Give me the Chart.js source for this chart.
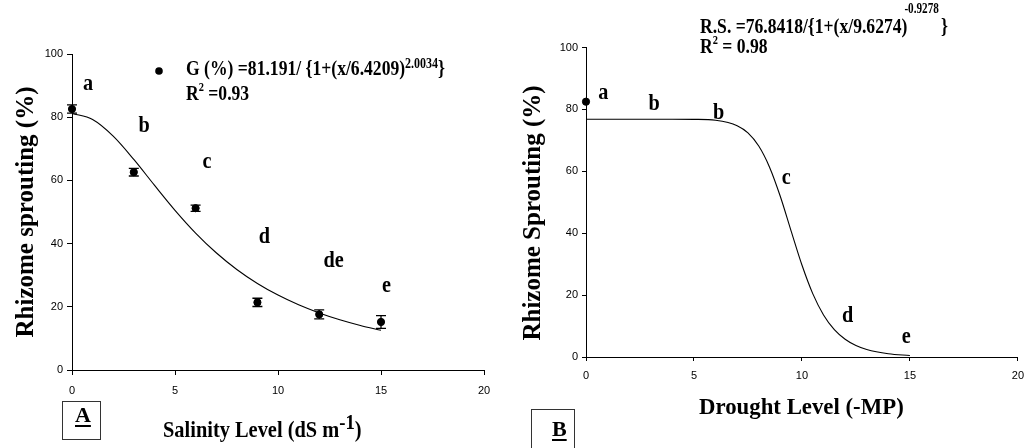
<!DOCTYPE html>
<html>
<head>
<meta charset="utf-8">
<script src="https://cdn.jsdelivr.net/npm/chart.js@4.4.1/dist/chart.umd.min.js"></script>
<style>
    html, body { margin: 0; padding: 0; background: #fff; }
    #wrap { position: relative; width: 1032px; height: 448px; overflow: hidden; }
    canvas { position: absolute; top: 0; }
    #salinityChart { left: 0; }
    #droughtChart { left: 516px; }
</style>
</head>
<body>
<div id="wrap">
    <canvas id="salinityChart" width="516" height="448"></canvas>
    <canvas id="droughtChart" width="516" height="448"></canvas>
</div>
<script>
"use strict";

/** DATA */

// Panel A - salinity
const salinityLevel = [0, 3, 6, 9, 12, 15];
const salinitySprouting = [82.6, 62.6, 51.2, 21.4, 17.6, 15.2];
const salinityError = [1.3, 1.2, 1.0, 1.3, 1.4, 2.0];
const salinityLetters = ['a', 'b', 'c', 'd', 'de', 'e'];
const salinityFitX = [0, 1, 2, 3, 4, 5, 6, 7, 8, 9, 10, 11, 12, 13, 14, 15];
const salinityFitY = [81.19, 79.27, 74.01, 66.64, 58.49, 50.54, 43.34, 37.10, 31.81, 27.38, 23.70, 20.63, 18.07, 15.92, 14.11, 12.57];

// Panel B - drought
const droughtLevel = [0];
const droughtSprouting = [82.5];
const droughtLetters = ['a', 'b', 'b', 'c', 'd', 'e'];
const droughtFitX = [0, 1, 2, 3, 4, 5, 6, 7, 7.5, 8, 8.5, 9, 9.5, 10, 10.5, 11, 11.5, 12, 12.5, 13, 14, 15];
const droughtFitY = [76.84, 76.84, 76.84, 76.84, 76.84, 76.79, 76.47, 74.74, 72.39, 68.15, 61.33, 51.85, 40.68, 29.71, 20.47, 13.59, 8.82, 5.72, 3.70, 2.42, 1.07, 0.49];

// Ticks
const xTickStep = 5;
const yTickStep = 20;

/** LAYOUT (letter anchors in data units: left edge / baseline) */
const salinityLetterPos = [[0.53, 88.6], [3.23, 75.4], [6.34, 64], [9.06, 40.3], [12.21, 32.5], [15.05, 24.8]];
const droughtLetterPos = [[0.57, 83.2], [2.89, 79.7], [5.88, 76.8], [9.06, 55.8], [11.86, 11.3], [14.62, 4.5]];

const SERIF = '"Liberation Serif", "Times New Roman", serif';
const SANS = '"Liberation Sans", Arial, sans-serif';

// Draw bold serif text, returns the x where it ends
const drawText = (ctx, text, x, y, size, opts = {}) => {
    const sx = opts.sx ?? 1;
    ctx.save();
    ctx.font = `bold ${ size }px ${ SERIF }`;
    ctx.fillStyle = '#000';
    ctx.textAlign = opts.align || 'left';
    ctx.textBaseline = 'alphabetic';
    ctx.translate(x, y);
    if (opts.rotate) ctx.rotate(opts.rotate);
    ctx.scale(sx, 1);
    ctx.fillText(text, 0, 0);
    const w = ctx.measureText(text).width * sx;
    ctx.restore();
    return x + w;
}

// Draw a run of pieces [text, size, dy, gap]
const drawRun = (ctx, pieces, x, y, sx) => {
    let cx = x;
    pieces.forEach(([text, size, dy, gap]) => {
        cx = drawText(ctx, text, cx + (gap || 0), y + (dy || 0), size, { sx });
    });
    return cx;
}

const drawPanelBox = (ctx, label, x, y, w, h, lx, ly) => {
    ctx.save();
    ctx.strokeStyle = '#333';
    ctx.lineWidth = 1;
    ctx.strokeRect(x + 0.5, y + 0.5, w, h);
    const end = drawText(ctx, label, lx, ly, 22);
    ctx.fillStyle = '#000';
    ctx.fillRect(lx, ly + 3, end - lx, 2);
    ctx.restore();
}

/** PLUGINS */

const errorBarPlugin = (xs, ys, errs) => ({
    id: 'errorBars',
    afterDatasetsDraw(chart) {
        const { ctx, scales: { x, y } } = chart;
        ctx.save();
        ctx.strokeStyle = '#000';
        ctx.lineWidth = 1.3;
        xs.forEach((v, i) => {
            const px = x.getPixelForValue(v);
            const top = y.getPixelForValue(ys[i] + errs[i]);
            const bot = y.getPixelForValue(ys[i] - errs[i]);
            ctx.beginPath();
            ctx.moveTo(px, top); ctx.lineTo(px, bot);
            ctx.moveTo(px - 5, top); ctx.lineTo(px + 5, top);
            ctx.moveTo(px - 5, bot); ctx.lineTo(px + 5, bot);
            ctx.stroke();
        });
        ctx.restore();
    }
});

const lettersPlugin = (letters, pos) => ({
    id: 'letters',
    afterDraw(chart) {
        const { ctx, scales: { x, y } } = chart;
        letters.forEach((t, i) => {
            drawText(ctx, t, x.getPixelForValue(pos[i][0]), y.getPixelForValue(pos[i][1]), 23, { sx: 0.88 });
        });
    }
});

const salinityTextPlugin = {
    id: 'salinityText',
    afterDraw(chart) {
        const ctx = chart.ctx;

        // Legend marker + equation
        ctx.save();
        ctx.fillStyle = '#000';
        ctx.beginPath();
        ctx.arc(159, 71, 3.8, 0, Math.PI * 2);
        ctx.fill();
        ctx.restore();
        drawRun(ctx, [['G (%) =81.191/ {1+(x/6.4209)', 22], ['2.0034', 15, -7], ['}', 22]], 186, 75, 0.8);
        drawRun(ctx, [['R', 22], ['2', 13, -9], [' =0.93', 22]], 186, 100, 0.8);

        // Axis titles
        drawText(ctx, 'Rhizome sprouting (%)', 33, 212, 25, { align: 'center', rotate: -Math.PI / 2 });
        drawRun(ctx, [['Salinity Level (dS m', 24], ['-1', 22, -8], [')', 24]], 163, 437, 0.85);

        // Panel label
        drawPanelBox(ctx, 'A', 62, 401, 38, 38, 75, 422);
    }
};

const droughtTextPlugin = {
    id: 'droughtText',
    afterDraw(chart) {
        const ctx = chart.ctx;

        // Equation
        drawRun(ctx, [['R.S. =76.8418/{1+(x/9.6274)', 22], ['-0.9278', 14, -20, -3], ['}', 22, 0, 2]], 184, 33, 0.8);
        drawRun(ctx, [['R', 22], ['2', 13, -9], [' = 0.98', 22]], 184, 53, 0.8);

        // Axis titles
        drawText(ctx, 'Rhizome Sprouting (%)', 24, 213, 25, { align: 'center', rotate: -Math.PI / 2 });
        drawText(ctx, 'Drought Level (-MP)', 183, 414, 24, { sx: 0.95 });

        // Panel label
        drawPanelBox(ctx, 'B', 15, 409, 43, 45, 36, 436);
    }
};

/** CHART FACTORY */

const makeScales = (yWidth, xHeight, xPad, tickLen) => ({
    x: {
        type: 'linear',
        min: 0,
        max: 20,
        ticks: { stepSize: xTickStep, color: '#000', font: { family: SANS, size: 11 }, padding: xPad, maxRotation: 0 },
        grid: { drawOnChartArea: false, drawTicks: true, tickLength: tickLen, color: '#000', lineWidth: 1 },
        border: { display: true, color: '#000', width: 1 },
        afterFit: scale => { scale.height = xHeight; }
    },
    y: {
        type: 'linear',
        min: 0,
        max: 100,
        ticks: { stepSize: yTickStep, color: '#000', font: { family: SANS, size: 11 }, padding: 4 },
        grid: { drawOnChartArea: false, drawTicks: true, tickLength: tickLen, color: '#000', lineWidth: 1 },
        border: { display: true, color: '#000', width: 1 },
        afterFit: scale => { scale.width = yWidth; }
    }
});

const makeChart = (canvasId, cfg) => new Chart(document.getElementById(canvasId).getContext('2d'), {
    type: 'scatter',
    data: {
        datasets: [{
            type: 'line',
            data: cfg.fitX.map((x, i) => ({ x, y: cfg.fitY[i] })),
            borderColor: '#000',
            borderWidth: 1.1,
            pointRadius: 0,
            fill: false,
            cubicInterpolationMode: 'monotone',
            clip: false
        }, {
            data: cfg.pointX.map((x, i) => ({ x, y: cfg.pointY[i] })),
            backgroundColor: '#000',
            borderColor: '#000',
            pointRadius: 3.6,
            clip: false
        }]
    },
    options: {
        responsive: false,
        animation: false,
        devicePixelRatio: 1,
        layout: { padding: cfg.padding },
        plugins: { legend: { display: false }, tooltip: { enabled: false } },
        scales: makeScales(cfg.yWidth, cfg.xHeight, cfg.xPad, cfg.tickLen)
    },
    plugins: cfg.plugins
});

// Panel A
makeChart('salinityChart', {
    fitX: salinityFitX, fitY: salinityFitY,
    pointX: salinityLevel, pointY: salinitySprouting,
    padding: { left: 0, top: 54, right: 32, bottom: 0 },
    yWidth: 72, xHeight: 78, xPad: 9, tickLen: 5,
    plugins: [
        errorBarPlugin(salinityLevel, salinitySprouting, salinityError),
        lettersPlugin(salinityLetters, salinityLetterPos),
        salinityTextPlugin
    ]
});

// Panel B
makeChart('droughtChart', {
    fitX: droughtFitX, fitY: droughtFitY,
    pointX: droughtLevel, pointY: droughtSprouting,
    padding: { left: 0, top: 47.5, right: 6, bottom: 0 },
    yWidth: 70, xHeight: 91, xPad: 8, tickLen: 4,
    plugins: [
        lettersPlugin(droughtLetters, droughtLetterPos),
        droughtTextPlugin
    ]
});
</script>
</body>
</html>
